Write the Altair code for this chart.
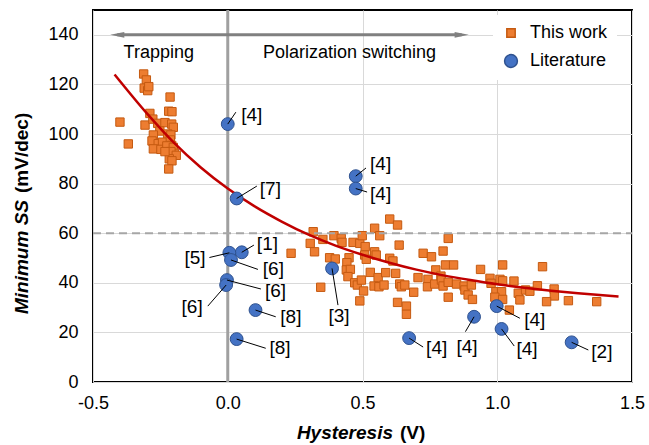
import altair as alt
import pandas as pd

# ---------------- data ----------------
# "This work" (orange squares)
work_x = [-0.312, -0.302, -0.310, -0.297, -0.293, -0.214, -0.219, -0.207, -0.289, -0.400,
          -0.307, -0.278, -0.260, -0.233, -0.208, -0.202, -0.252, -0.276, -0.223, -0.211,
          -0.281, -0.258, -0.242, -0.213, -0.208, -0.369, -0.276, -0.248, -0.226, -0.202,
          -0.198, -0.211, -0.191, -0.217, -0.207, -0.219, -0.233,
          0.317, 0.306, 0.322, 0.353, 0.235, 0.394, 0.421, 0.424, 0.465, 0.490,
          0.499, 0.510, 0.545, 0.564, 0.545, 0.551, 0.508, 0.514, 0.601, 0.630,
          0.601, 0.613, 0.378, 0.399, 0.450, 0.442, 0.440, 0.455, 0.446, 0.471,
          0.481, 0.496, 0.504, 0.529, 0.490, 0.558, 0.543, 0.561, 0.580, 0.586,
          0.345, 0.623,
          0.818, 0.636, 0.725, 0.756, 0.799, 0.808, 0.838, 0.938, 1.020, 0.772,
          0.706, 0.743, 0.741, 0.768, 0.791, 0.793, 0.799, 0.818, 0.638, 0.644,
          0.657, 0.690, 0.849, 0.877, 0.880, 0.892, 0.908, 0.904, 0.818, 0.973,
          0.977, 1.010, 1.020, 0.995, 1.016, 0.991, 1.020, 0.630, 0.663, 0.663,
          1.168, 1.062, 1.078, 1.105, 1.121, 1.149, 1.211, 1.212, 1.183, 1.084,
          1.264, 1.369, 1.045]
work_y = [124.2, 121.8, 118.5, 117.5, 119.1, 114.9, 109.2, 109.0, 108.3, 104.8,
          103.6, 106.0, 104.3, 104.6, 104.0, 102.7, 101.2, 99.6, 100.0, 99.6,
          97.2, 96.1, 96.7, 97.6, 95.4, 96.0, 94.0, 93.8, 95.2, 94.6,
          92.2, 92.9, 91.4, 90.0, 89.2, 85.9, 92.9,
          60.6, 55.9, 52.5, 57.5, 51.9, 59.0, 57.9, 56.3, 56.3, 55.9,
          59.0, 54.6, 62.0, 59.0, 52.5, 51.2, 51.2, 49.5, 65.7, 63.3,
          49.9, 48.8, 50.1, 49.6, 50.1, 48.1, 45.2, 45.4, 42.5, 40.0,
          39.1, 41.1, 36.7, 44.2, 32.7, 42.1, 38.7, 38.4, 39.1, 44.1,
          38.2, 43.8,
          57.9, 55.2, 51.9, 50.5, 52.8, 47.2, 47.2, 45.4, 47.2, 45.2,
          42.1, 41.4, 38.4, 39.5, 42.7, 41.1, 38.7, 40.2, 39.5, 38.4,
          39.1, 36.2, 39.5, 38.7, 37.1, 35.1, 33.3, 39.1, 34.2, 41.8,
          39.8, 41.4, 40.8, 36.4, 36.4, 34.2, 33.3, 32.1, 30.6, 27.3,
          46.5, 40.7, 35.8, 37.1, 36.6, 38.8, 37.5, 34.7, 32.4, 33.1,
          32.8, 32.4, 29.0]

# "Literature" (blue circles) with reference labels
lit_x = [0.0, 0.033, 0.475, 0.475, 0.052, 0.006, 0.012, -0.003, -0.006, 0.103,
         0.033, 0.387, 0.673, 0.914, 0.998, 1.016, 1.276]
lit_y = [104, 74, 83, 78, 52.3, 52.1, 49.2, 41.1, 39.1, 29,
         17.3, 45.8, 17.7, 26.3, 30.6, 21.4, 16.0]
lit_ref = ["[4]", "[7]", "[4]", "[4]", "[1]", "[5]", "[6]", "[6]", "[6]", "[8]",
           "[8]", "[3]", "[4]", "[4]", "[4]", "[4]", "[2]"]

# label annotation placement (data units)
lead_x = [0.030, 0.108, 0.513, 0.517, 0.097, -0.068, 0.112, 0.123, -0.074, 0.178,
          0.141, 0.409, 0.725, 0.882, 1.084, 1.063, 1.338]
lead_y = [108.8, 79, 86.3, 76.6, 55.2, 50.2, 45.4, 37.5, 30.6, 26.3,
          13.6, 31, 14.1, 20.3, 25.7, 14.5, 12.9]
text_x = [0.050, 0.119, 0.528, 0.528, 0.108, -0.082, 0.130, 0.138, -0.093, 0.195,
          0.155, 0.413, 0.736, 0.888, 1.100, 1.071, 1.349]
text_y = [107.5, 78, 88, 76, 55.5, 50, 45.4, 36.5, 30.2, 26.3,
          13.6, 26.5, 13.7, 14, 25, 13.5, 12.2]
text_align = ["left", "left", "left", "left", "left", "right", "left", "left", "right", "left",
              "left", "center", "left", "center", "left", "left", "left"]

# trend curve points
curve_x = [-0.42, -0.3, -0.2, -0.1, 0.0, 0.1, 0.2, 0.3, 0.4, 0.5, 0.6, 0.7, 0.8, 0.9,
           1.0, 1.1, 1.2, 1.3, 1.45]
curve_y = [124, 108.3, 96.5, 86.5, 78, 70.8, 64.7, 59.4, 55.0, 51.3, 48.1, 45.3, 43.0,
           41.1, 39.4, 38.0, 36.8, 35.8, 34.5]

x_ticks = [-0.5, 0.0, 0.5, 1.0, 1.5]
y_ticks = [0, 20, 40, 60, 80, 100, 120, 140]

# ---------------- tables ----------------
SERIES = ["This work", "Literature"]
work_df = pd.DataFrame({"x": work_x, "y": work_y, "series": "This work"})
lit_df = pd.DataFrame({"x": lit_x, "y": lit_y, "series": "Literature"})
curve_df = pd.DataFrame({"x": curve_x, "y": curve_y})
lab_df = pd.DataFrame({"x": lit_x, "y": lit_y, "lx": lead_x, "ly": lead_y,
                       "tx": text_x, "ty": text_y, "ref": lit_ref, "align": text_align})

FONT = "Liberation Sans"
W, H = 539, 372

xs = alt.Scale(domain=[-0.5, 1.5], nice=False, zero=False)
ys = alt.Scale(domain=[0, 150], nice=False)

xaxis = alt.Axis(values=x_ticks, title=None, grid=True, gridColor="#D9D9D9",
                 ticks=False, domain=False, labelFontSize=18, labelFont=FONT,
                 labelColor="#000000", labelPadding=12, labelFlush=False,
                 labelExpr="replace(format(datum.value, '.1f'), '\u2212', '-')")
yaxis = alt.Axis(values=y_ticks, title=None, grid=True, gridColor="#D9D9D9",
                 ticks=False, domain=False, labelFontSize=18, labelFont=FONT,
                 labelColor="#000000", labelPadding=15, labelFlush=False)

X = alt.X("x:Q", scale=xs, axis=xaxis)
Y = alt.Y("y:Q", scale=ys, axis=yaxis)

legend = alt.Legend(title=None, orient="none", legendX=400, legendY=5,
                    fillColor="white", padding=9, labelFontSize=18, labelFont=FONT,
                    labelColor="#000000", rowPadding=9, labelOffset=10)

fill_enc = alt.Fill("series:N", scale=alt.Scale(domain=SERIES, range=["#ED7D31", "#4472C4"]),
                    legend=legend)
shape_enc = alt.Shape("series:N", scale=alt.Scale(domain=SERIES, range=["square", "circle"]),
                      legend=legend)
size_enc = alt.Size("series:N", scale=alt.Scale(domain=SERIES, range=[70, 165]),
                    legend=legend)
stroke_enc = alt.Stroke("series:N", scale=alt.Scale(domain=SERIES, range=["#C55A11", "#2F528F"]),
                        legend=legend)

one = pd.DataFrame({"a": [0]})

# reference lines
vline = alt.Chart(one).mark_rule(color="#A0A0A0", strokeWidth=3).encode(
    x=alt.datum(0.0, scale=xs, type="quantitative"),
    y=alt.value(0), y2=alt.value(H))
hline = alt.Chart(one).mark_rule(color="#A6A6A6", strokeWidth=2, strokeDash=[8, 5]).encode(
    y=alt.datum(60, scale=ys, type="quantitative"),
    x=alt.value(0), x2=alt.value(W))

# double arrow at top
arrow_df = pd.DataFrame({"x1": [-0.41], "x2": [0.868], "y": [140]})
arrow_line = alt.Chart(arrow_df).mark_rule(color="#808080", strokeWidth=3).encode(
    x=alt.X("x1:Q", scale=xs), x2="x2:Q", y=alt.Y("y:Q", scale=ys))
left_head_df = pd.DataFrame({"x": [-0.41], "y": [140]})
right_head_df = pd.DataFrame({"x": [0.868], "y": [140]})
head_l = alt.Chart(left_head_df).mark_point(
    filled=True, opacity=1, color="#808080", size=200,
    shape="M 1 -0.4 L -1 0 L 1 0.4 Z").encode(
    x=alt.X("x:Q", scale=xs), y=alt.Y("y:Q", scale=ys))
head_r = alt.Chart(right_head_df).mark_point(
    filled=True, opacity=1, color="#808080", size=200,
    shape="M -1 -0.4 L 1 0 L -1 0.4 Z").encode(
    x=alt.X("x:Q", scale=xs), y=alt.Y("y:Q", scale=ys))

region_df = pd.DataFrame({"x": [-0.256, 0.452], "y": [132.5, 132.5],
                          "t": ["Trapping", "Polarization switching"]})
region_txt = alt.Chart(region_df).mark_text(fontSize=18, font=FONT, color="#000000",
                                            baseline="middle").encode(
    x=alt.X("x:Q", scale=xs), y=alt.Y("y:Q", scale=ys), text="t:N")

curve = alt.Chart(curve_df).mark_line(color="#C00000", strokeWidth=2.5,
                                      interpolate="monotone").encode(
    x=alt.X("x:Q", scale=xs), y=alt.Y("y:Q", scale=ys))

work_pts = alt.Chart(work_df).mark_point(filled=True, opacity=1, strokeWidth=1).encode(
    x=X, y=Y, fill=fill_enc, shape=shape_enc, size=size_enc, stroke=stroke_enc)
lit_pts = alt.Chart(lit_df).mark_point(filled=True, opacity=1, strokeWidth=1).encode(
    x=alt.X("x:Q", scale=xs), y=alt.Y("y:Q", scale=ys),
    fill=fill_enc, shape=shape_enc, size=size_enc, stroke=stroke_enc)

leaders = alt.Chart(lab_df).mark_rule(color="#000000", strokeWidth=1).encode(
    x=alt.X("x:Q", scale=xs), y=alt.Y("y:Q", scale=ys), x2="lx:Q", y2="ly:Q")

def lab_layer(al):
    return alt.Chart(lab_df).transform_filter(alt.datum.align == al).mark_text(
        fontSize=19, font=FONT, color="#000000", align=al, baseline="middle").encode(
        x=alt.X("tx:Q", scale=xs), y=alt.Y("ty:Q", scale=ys), text="ref:N")

labels = lab_layer("left") + lab_layer("right") + lab_layer("center")

# axis titles (mixed italic / upright)
XT_X, XT_Y = 300, 423
xt1 = alt.Chart(one).mark_text(text="Hysteresis", fontSize=19, font=FONT, fontWeight="bold",
                               fontStyle="italic", align="right", baseline="middle",
                               color="#000000").encode(x=alt.value(XT_X), y=alt.value(XT_Y))
xt2 = alt.Chart(one).mark_text(text="(V)", fontSize=19, font=FONT, fontWeight="bold",
                               align="left", baseline="middle",
                               color="#000000").encode(x=alt.value(XT_X + 7), y=alt.value(XT_Y))
YT_X, YT_Y = -71, 190
yt1 = alt.Chart(one).mark_text(text="Minimum SS", fontSize=19, font=FONT, fontWeight="bold",
                               fontStyle="italic", align="right", baseline="middle", angle=270,
                               color="#000000").encode(x=alt.value(YT_X), y=alt.value(YT_Y))
yt2 = alt.Chart(one).mark_text(text="(mV/dec)", fontSize=19, font=FONT, fontWeight="bold",
                               align="left", baseline="middle", angle=270,
                               color="#000000").encode(x=alt.value(YT_X), y=alt.value(YT_Y - 7))

chart = alt.layer(
    work_pts, vline, hline, arrow_line, head_l, head_r, region_txt, curve, lit_pts,
    leaders, labels, xt1, xt2, yt1, yt2
).properties(
    width=W, height=H,
    autosize=alt.AutoSizeParams(type="none"),
    padding={"left": 93, "top": 10, "right": 17, "bottom": 63},
    background="white",
).configure_view(stroke="#000000", strokeWidth=2)

chart.save("out.html", embed_options={"renderer": "svg", "actions": False})
